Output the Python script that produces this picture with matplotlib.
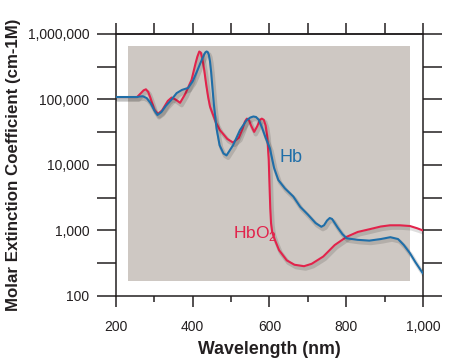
"""Molar extinction spectra of Hb and HbO2."""

import matplotlib

matplotlib.use("Agg")
import matplotlib.pyplot as plt
import matplotlib.patheffects as pe
import numpy as np
from matplotlib.patches import Rectangle
from matplotlib.ticker import FixedLocator, FuncFormatter, NullFormatter

# --------------------------------------------------
# data (wavelength nm, molar extinction)
# --------------------------------------------------
hb_wl = [200, 255, 262, 270, 280, 290, 300, 308, 318, 330, 345, 358, 372, 388,
         400, 410, 420, 425, 430, 433, 436, 439, 442, 445, 448, 451, 455, 462,
         470, 480, 488, 505, 523, 540, 550, 558, 565, 572, 580, 590, 601, 612,
         623, 640, 662, 680, 700, 720, 735, 742, 750, 757, 763, 770, 778, 790,
         801, 830, 860, 890, 915, 935, 950, 966, 980, 1000]
hb_val = [1.09e5, 1.09e5, 1.11e5, 1.12e5, 1.05e5, 8.8e4, 6.8e4, 5.8e4, 6.4e4,
          8.0e4, 1.0e5, 1.25e5, 1.4e5, 1.5e5, 1.9e5, 2.6e5, 3.6e5, 4.2e5,
          4.9e5, 5.25e5, 5.4e5, 5.3e5, 4.8e5, 3.8e5, 2.6e5, 1.6e5, 8.5e4,
          3.6e4, 2.0e4, 1.5e4, 1.4e4, 2.0e4, 3.4e4, 4.8e4, 5.3e4, 5.5e4,
          5.4e4, 4.9e4, 3.8e4, 2.6e4, 1.8e4, 9.0e3, 5.9e3, 4.4e3, 3.3e3,
          2.3e3, 1.75e3, 1.3e3, 1.14e3, 1.2e3, 1.42e3, 1.55e3, 1.5e3, 1.3e3,
          1.1e3, 8.8e2, 7.6e2, 7.2e2, 7.0e2, 7.4e2, 7.9e2, 7.4e2, 6.0e2,
          4.5e2, 3.3e2, 2.2e2]

hbo2_wl = [200, 255, 265, 272, 278, 284, 290, 300, 309, 320, 335, 345, 355,
           367, 380, 397, 407, 412, 417, 421, 425, 430, 435, 440, 445, 460,
           471, 490, 505, 520, 530, 536, 541, 546, 552, 560, 568, 575, 580,
           585, 590, 594, 598, 600, 602, 604, 607, 614, 625, 645, 665, 690,
           710, 740, 770, 801, 830, 862, 890, 914, 940, 966, 985, 1000]
hbo2_val = [1.09e5, 1.09e5, 1.25e5, 1.38e5, 1.43e5, 1.3e5, 1.05e5, 7.0e4,
            6.0e4, 6.8e4, 9.5e4, 1.07e5, 1.0e5, 8.9e4, 1.2e5, 2.0e5, 3.5e5,
            4.5e5, 5.4e5, 5.2e5, 4.2e5, 2.8e5, 1.7e5, 1.1e5, 7.8e4, 4.5e4,
            3.4e4, 2.5e4, 2.2e4, 2.6e4, 3.6e4, 4.6e4, 5.1e4, 4.9e4, 4.0e4,
            3.2e4, 3.9e4, 4.9e4, 5.1e4, 4.9e4, 4.0e4, 2.8e4, 1.2e4, 5.0e3,
            2.2e3, 1.3e3, 9.5e2, 7.2e2, 5.0e2, 3.5e2, 3.0e2, 2.85e2, 3.1e2,
            4.0e2, 6.0e2, 8.0e2, 9.5e2, 1.05e3, 1.15e3, 1.2e3, 1.2e3, 1.17e3,
            1.08e3, 1.0e3]

x_major = [200, 400, 600, 800, 1000]
x_minor = [300, 500, 700, 900]
x_top = [200, 300, 400, 500, 600, 700, 800, 900, 1000]
y_major = [1e2, 1e3, 1e4, 1e5, 1e6]

# --------------------------------------------------
# style
# --------------------------------------------------
plt.rcParams["font.family"] = ["Liberation Sans", "DejaVu Sans"]
plt.rcParams["mathtext.fontset"] = "custom"
plt.rcParams["mathtext.rm"] = "Liberation Sans"

ink = "#231f20"
red = "#e2234b"
blue = "#1f6ea8"
panel = "#cec8c3"

fig = plt.figure(figsize=(4.74, 3.63), dpi=100)
ax = fig.add_axes([0.2447, 0.1846, 0.6477, 0.7218])

# gray backdrop panel
ax.add_patch(Rectangle((0.039, 0.057), 0.919, 0.897, transform=ax.transAxes,
                       facecolor=panel, edgecolor="none", zorder=0))

shadow = [pe.SimpleLineShadow(offset=(1.2, -1.8), shadow_color="k",
                              alpha=0.13, linewidth=3.0), pe.Normal()]
ax.plot(hbo2_wl, hbo2_val, color=red, lw=1.5, path_effects=shadow,
        solid_capstyle="round", solid_joinstyle="round", zorder=3)
ax.plot(hb_wl, hb_val, color=blue, lw=1.5, path_effects=shadow,
        solid_capstyle="round", solid_joinstyle="round", zorder=4)

ax.text(625, 1.28e4, "Hb", color=blue, fontsize=13, va="center", ha="left")
ax.text(505, 9.1e2, r"HbO$_{\mathrm{2}}$", color=red, fontsize=12.5,
        va="center", ha="left")

# axes, scales
ax.set_xlim(200, 1000)
ax.set_yscale("log")
ax.set_ylim(100, 1e6)

ax.xaxis.set_major_locator(FixedLocator(x_major))
ax.xaxis.set_minor_locator(FixedLocator(x_minor))
ax.xaxis.set_major_formatter(FuncFormatter(lambda v, p: f"{v:,.0f}"))
ax.xaxis.set_minor_formatter(NullFormatter())

y_minor = [v * np.sqrt(10) for v in y_major[:-1]]
ax.yaxis.set_major_locator(FixedLocator(y_major))
ax.yaxis.set_minor_locator(FixedLocator(y_minor))
ax.yaxis.set_major_formatter(FuncFormatter(lambda v, p: f"{v:,.0f}"))
ax.yaxis.set_minor_formatter(NullFormatter())

for s in ax.spines.values():
    s.set_color(ink)
    s.set_linewidth(1.1)

ax.tick_params(axis="x", which="major", direction="out", length=8, width=1.1,
               color=ink, labelcolor=ink, labelsize=10, pad=9,
               top=False, bottom=True)
ax.tick_params(axis="x", which="minor", direction="out", length=4.5, width=1.1,
               color=ink, top=False, bottom=True)
ax.tick_params(axis="y", which="both", direction="out", length=14, width=1.1,
               color=ink, labelcolor=ink, labelsize=10, pad=5,
               left=True, right=True)

# top ticks: every 100 nm, same length
top = ax.secondary_xaxis("top")
top.set_xticks(x_top)
top.tick_params(direction="out", length=8, width=1.1, color=ink,
                labeltop=False)
top.spines["top"].set_linewidth(1.1)
top.spines["top"].set_color(ink)

ax.set_xlabel("Wavelength (nm)", fontsize=12.8, fontweight="bold", color=ink,
              labelpad=5)
ax.set_ylabel("Molar Extinction Coefficient (cm-1M)", fontsize=12.2,
              fontweight="bold", color=ink, labelpad=5)

fig.savefig("out.png", dpi=100)
